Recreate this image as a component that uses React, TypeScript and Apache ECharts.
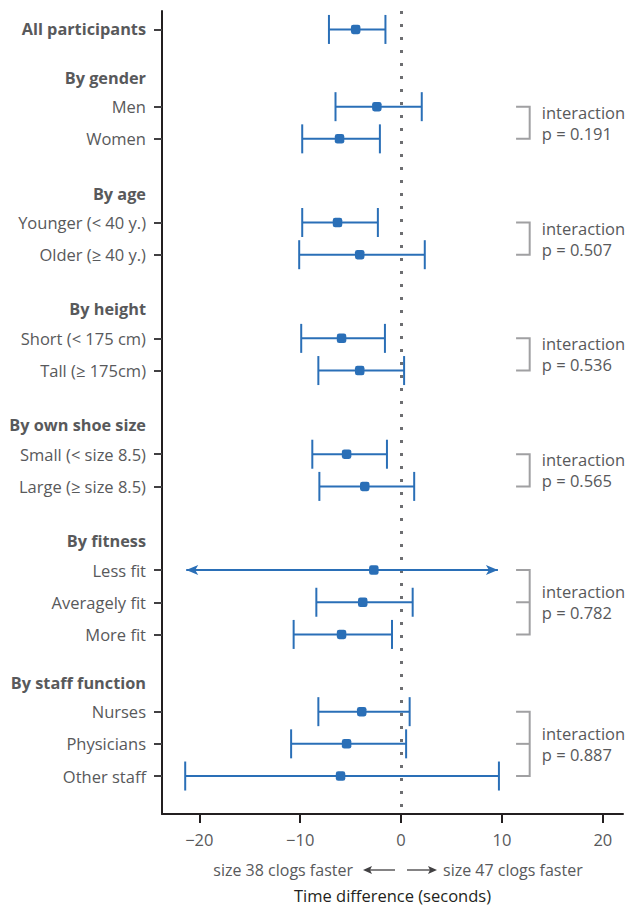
import React, { useEffect, useRef } from "react";
import * as echarts from "echarts";

// ---------- data ----------
const groupTitles = ["", "By gender", "By age", "By height", "By own shoe size", "By fitness", "By staff function"];
const rowLabels = [
  "All participants",
  "Men",
  "Women",
  "Younger (< 40 y.)",
  "Older (≥ 40 y.)",
  "Short (< 175 cm)",
  "Tall (≥ 175cm)",
  "Small (< size 8.5)",
  "Large (≥ size 8.5)",
  "Less fit",
  "Averagely fit",
  "More fit",
  "Nurses",
  "Physicians",
  "Other staff",
];
const rowGroup = [0, 1, 1, 2, 2, 3, 3, 4, 4, 5, 5, 5, 6, 6, 6];
const estimates = [-4.5, -2.4, -6.1, -6.3, -4.1, -5.9, -4.1, -5.4, -3.6, -2.7, -3.8, -5.9, -3.9, -5.4, -6.0];
const lowerCI = [-7.15, -6.5, -9.8, -9.8, -10.1, -9.9, -8.2, -8.8, -8.1, -21.3, -8.4, -10.65, -8.2, -10.9, -21.4];
const upperCI = [-1.55, 2.05, -2.1, -2.3, 2.35, -1.6, 0.3, -1.4, 1.3, 9.6, 1.15, -0.9, 0.85, 0.5, 9.7];
const truncatedCI = [false, false, false, false, false, false, false, false, false, true, false, false, false, false, false];
const interactionP = ["", "0.191", "0.507", "0.536", "0.565", "0.782", "0.887"];
const xTicks = [-20, -10, 0, 10, 20];

// ---------- layout (row positions in row units) ----------
const GROUP_GAP = [0, 2.4, 2.6, 2.6, 2.6, 2.6, 2.4];
const HEADER_OFFSET = 0.9;
const rowPos: number[] = [];
rowLabels.forEach((_, i) => {
  if (i === 0) rowPos.push(0);
  else if (rowGroup[i] !== rowGroup[i - 1]) rowPos.push(+(rowPos[i - 1] + GROUP_GAP[rowGroup[i]]).toFixed(3));
  else rowPos.push(+(rowPos[i - 1] + 1).toFixed(3));
});
const headerPos: number[] = groupTitles.map((_, g) => {
  const first = rowGroup.indexOf(g);
  return +(rowPos[first] - HEADER_OFFSET).toFixed(3);
});

const FONT = "'Open Sans', 'Noto Sans', sans-serif";
const TEXT = "#58595b";
const BLUE = "#2a6fb7";

export default function App() {
  const ref = useRef<HTMLDivElement>(null);
  useEffect(() => {
    if (!ref.current) return;
    const chart = echarts.init(ref.current, undefined, { renderer: "svg" });

    const labelValues: number[] = [];
    const labelText: { v: number; t: string; bold: boolean }[] = [];
    rowLabels.forEach((l, i) => {
      labelValues.push(rowPos[i]);
      labelText.push({ v: rowPos[i], t: l, bold: i === 0 });
    });
    groupTitles.forEach((t, g) => {
      if (!t) return;
      labelValues.push(headerPos[g]);
      labelText.push({ v: headerPos[g], t, bold: true });
    });

    const barData = rowLabels.map((_, i) => [lowerCI[i], upperCI[i], rowPos[i], truncatedCI[i] ? 1 : 0]);
    const pointData = rowLabels.map((_, i) => [estimates[i], rowPos[i]]);
    const bracketData = groupTitles
      .map((_, g) => g)
      .filter((g) => interactionP[g])
      .map((g) => {
        const ys = rowPos.filter((_, i) => rowGroup[i] === g);
        return [ys[0], ys[ys.length - 1], g];
      });

    chart.setOption({
      animation: false,
      grid: { left: 162, right: 4, top: 11, bottom: 92, containLabel: false },
      xAxis: {
        type: "value",
        min: -23.7,
        max: 22,
        splitLine: { show: false },
        axisLine: { show: true, onZero: false, lineStyle: { color: "#231f20", width: 2 } },
        axisTick: { show: true, customValues: xTicks, length: 9, lineStyle: { color: "#231f20", width: 2 } },
        axisLabel: {
          customValues: xTicks,
          fontSize: 16.5,
          color: TEXT,
          fontFamily: FONT,
          margin: 17,
          formatter: (v: number) => (v < 0 ? "\u2212" + Math.abs(v) : String(v)),
        },
        name: "Time difference (seconds)",
        nameLocation: "middle",
        nameGap: 73,
        nameTextStyle: { fontSize: 16.5, color: "#231f20", fontFamily: FONT },
      },
      yAxis: {
        type: "value",
        inverse: true,
        min: -0.573,
        max: 24.38,
        splitLine: { show: false },
        axisLine: { show: true, onZero: false, lineStyle: { color: "#231f20", width: 2 } },
        axisTick: { show: true, customValues: rowPos, length: 8, lineStyle: { color: "#414042", width: 2 } },
        axisLabel: {
          customValues: labelValues,
          fontSize: 16.5,
          color: TEXT,
          fontFamily: FONT,
          margin: 16,
          formatter: (v: number) => {
            const e = labelText.find((x) => Math.abs(x.v - v) < 0.01);
            if (!e) return "";
            return e.bold ? "{b|" + e.t + "}" : e.t;
          },
          rich: {
            b: { fontWeight: "bold", fontSize: 16.3, color: TEXT, fontFamily: FONT },
          },
        },
      },
      series: [
        {
          type: "custom",
          clip: false,
          silent: true,
          data: barData,
          encode: { x: [0, 1], y: 2 },
          renderItem: (params: any, api: any) => {
            const lo = api.value(0);
            const hi = api.value(1);
            const y = api.value(2);
            const tr = api.value(3);
            const p1 = api.coord([lo, y]);
            const p2 = api.coord([hi, y]);
            const style = { stroke: BLUE, lineWidth: 2 };
            const children: any[] = [
              { type: "line", shape: { x1: p1[0], y1: p1[1], x2: p2[0], y2: p2[1] }, style },
            ];
            if (tr) {
              const L = p1[0], R = p2[0], yy = p1[1];
              children.push({
                type: "polygon",
                shape: { points: [[L, yy], [L + 12, yy - 5], [L + 9, yy], [L + 12, yy + 5]] },
                style: { fill: BLUE },
              });
              children.push({
                type: "polygon",
                shape: { points: [[R, yy], [R - 12, yy - 5], [R - 9, yy], [R - 12, yy + 5]] },
                style: { fill: BLUE },
              });
            } else {
              children.push({ type: "line", shape: { x1: p1[0], y1: p1[1] - 14.5, x2: p1[0], y2: p1[1] + 14.5 }, style });
              children.push({ type: "line", shape: { x1: p2[0], y1: p2[1] - 14.5, x2: p2[0], y2: p2[1] + 14.5 }, style });
            }
            return { type: "group", children };
          },
          z: 3,
        },
        {
          type: "scatter",
          data: pointData,
          symbol: "roundRect",
          symbolSize: 9.5,
          itemStyle: { color: BLUE, opacity: 1 },
          silent: true,
          z: 4,
          markLine: {
            silent: true,
            symbol: ["none", "none"],
            label: { show: false },
            lineStyle: { color: "#6d6e71", width: 3, type: [3, 10] },
            data: [{ xAxis: 0 }],
            z: 2,
          },
        },
        {
          type: "custom",
          clip: false,
          silent: true,
          data: bracketData,
          encode: { y: [0, 1] },
          renderItem: (params: any, api: any) => {
            const y0 = api.value(0);
            const y1 = api.value(1);
            const g = api.value(2);
            const a = api.coord([11.4, y0]);
            const b = api.coord([12.75, y1]);
            const style = { stroke: "#a0a0a2", lineWidth: 2, fill: "none" };
            const children: any[] = [
              { type: "polyline", shape: { points: [[a[0], a[1]], [b[0], a[1]], [b[0], b[1]], [a[0], b[1]]] }, style },
            ];
            rowPos.forEach((p, i) => {
              if (rowGroup[i] === g && p > y0 && p < y1) {
                const m = api.coord([11.4, p]);
                children.push({ type: "line", shape: { x1: m[0], y1: m[1], x2: b[0], y2: m[1] }, style });
              }
            });
            const t = api.coord([13.95, (y0 + y1) / 2]);
            children.push({
              type: "text",
              x: t[0],
              y: t[1],
              style: {
                text: "interaction\np = " + interactionP[g],
                fontSize: 16.5,
                lineHeight: 21,
                fill: TEXT,
                fontFamily: FONT,
                align: "left",
                verticalAlign: "middle",
              },
            });
            return { type: "group", children };
          },
        },
      ],
      graphic: [
        {
          type: "text",
          x: 353,
          y: 870,
          style: { text: "size 38 clogs faster", fontSize: 16, fill: TEXT, fontFamily: FONT, align: "right", verticalAlign: "middle" },
        },
        {
          type: "line",
          shape: { x1: 395, y1: 870, x2: 367, y2: 870 },
          style: { stroke: "#414042", lineWidth: 1.3 },
        },
        {
          type: "polygon",
          shape: { points: [[363, 870], [372, 866], [370, 870], [372, 874]] },
          style: { fill: "#414042" },
        },
        {
          type: "line",
          shape: { x1: 407, y1: 870, x2: 433, y2: 870 },
          style: { stroke: "#414042", lineWidth: 1.3 },
        },
        {
          type: "polygon",
          shape: { points: [[437, 870], [428, 866], [430, 870], [428, 874]] },
          style: { fill: "#414042" },
        },
        {
          type: "text",
          x: 443,
          y: 870,
          style: { text: "size 47 clogs faster", fontSize: 16, fill: TEXT, fontFamily: FONT, align: "left", verticalAlign: "middle" },
        },
      ],
    });
    return () => chart.dispose();
  }, []);
  return <div ref={ref} style={{ position: "absolute", left: 0, top: 0, width: 627, height: 909 }} />;
}
